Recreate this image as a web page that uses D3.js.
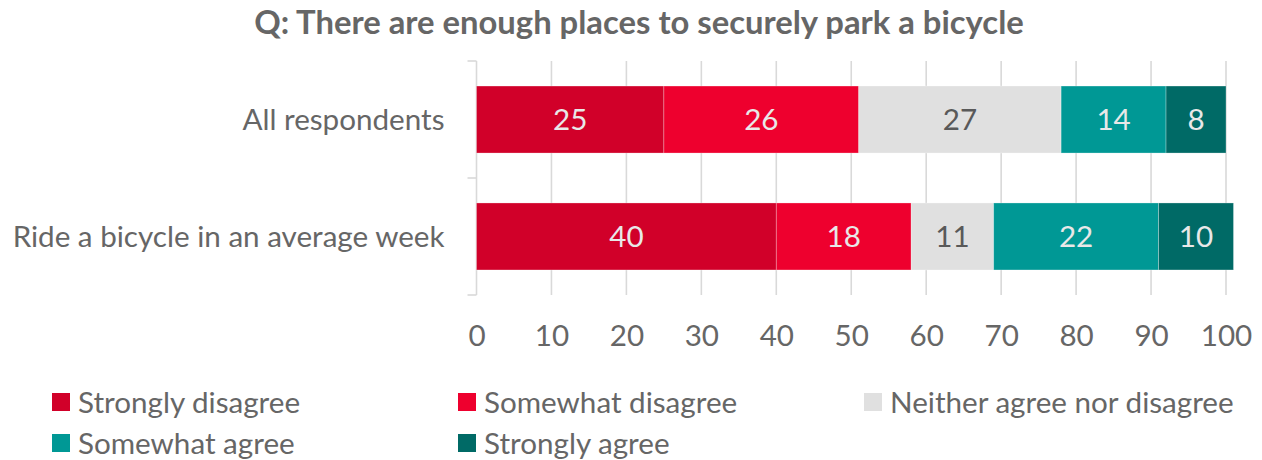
<!DOCTYPE html>
<html>
<head>
<meta charset="utf-8">
<script src="https://cdn.jsdelivr.net/npm/d3@7"></script>
<style>
  body { margin: 0; background: #ffffff; }
  svg { display: block; }
</style>
</head>
<body>
<svg id="chart" width="1262" height="460"></svg>
<script>
// Survey responses (percent of each group)
const titleText = "Q: There are enough places to securely park a bicycle";
const categories = ["All respondents", "Ride a bicycle in an average week"];
const seriesNames = ["Strongly disagree", "Somewhat disagree", "Neither agree nor disagree", "Somewhat agree", "Strongly agree"];
const stronglyDisagree = [25, 40];
const somewhatDisagree = [26, 18];
const neitherAgree = [27, 11];
const somewhatAgree = [14, 22];
const stronglyAgree = [8, 10];
const xTicks = [0, 10, 20, 30, 40, 50, 60, 70, 80, 90, 100];

const seriesColors = ["#d10029", "#ee002e", "#e0e0e0", "#009895", "#006a66"];
const valueColors = ["#e8e8e8", "#e8e8e8", "#595959", "#e8e8e8", "#e8e8e8"];
const textColor = "#666666";
const gridColor = "#d9d9d9";
const FONT = "Lato, 'Open Sans', 'DejaVu Sans', sans-serif";

const svg = d3.select("#chart");

// size a font so a reference string spans a given width
function fitSize(text, weight, width) {
  const t = svg.append("text")
    .attr("font-family", FONT).attr("font-weight", weight)
    .attr("font-size", 100).text(text);
  const w = t.node().getComputedTextLength();
  t.remove();
  return 100 * width / w;
}
const baseSize = fitSize(categories[1], 400, 432);
const titleSize = fitSize(titleText, 700, 770);

const seriesValues = [stronglyDisagree, somewhatDisagree, neitherAgree, somewhatAgree, stronglyAgree];
const rows = categories.map((c, i) => {
  const r = { category: c };
  seriesNames.forEach((s, k) => { r[s] = seriesValues[k][i]; });
  return r;
});
const stacked = d3.stack().keys(seriesNames)(rows);

const plotTop = 61, plotBottom = 295;
const x = d3.scaleLinear().domain([0, 100]).range([476.5, 1226]);
const y = d3.scaleBand().domain(categories).range([plotTop, plotBottom])
  .paddingInner(0.427).paddingOuter(0.214);

// title
svg.append("text")
  .attr("x", 639).attr("y", 34)
  .attr("text-anchor", "middle")
  .attr("font-family", FONT).attr("font-weight", 700)
  .attr("font-size", titleSize).attr("fill", textColor)
  .text(titleText);

// vertical gridlines
svg.append("g").selectAll("line")
  .data(xTicks.slice(1))
  .join("line")
  .attr("x1", d => x(d)).attr("x2", d => x(d))
  .attr("y1", plotTop).attr("y2", plotBottom)
  .attr("stroke", gridColor).attr("stroke-width", 1.6);

// category axis line with outside ticks at band edges
const catAxis = svg.append("g");
catAxis.append("line")
  .attr("x1", x(0)).attr("x2", x(0))
  .attr("y1", plotTop).attr("y2", plotBottom)
  .attr("stroke", gridColor).attr("stroke-width", 1.6);
const bandEdges = [plotTop].concat(categories.map(c => y(c) + y.bandwidth() + y.step() * y.paddingInner() / 2));
bandEdges[bandEdges.length - 1] = plotBottom;
catAxis.selectAll("line.edge")
  .data(bandEdges)
  .join("line").attr("class", "edge")
  .attr("x1", x(0) - 9).attr("x2", x(0))
  .attr("y1", d => d).attr("y2", d => d)
  .attr("stroke", gridColor).attr("stroke-width", 1.6);

// stacked bars
const layers = svg.append("g").selectAll("g")
  .data(stacked)
  .join("g")
  .attr("fill", (d, i) => seriesColors[i]);

layers.selectAll("rect")
  .data(d => d.map(p => ({ p, key: d.key })))
  .join("rect")
  .attr("x", d => x(d.p[0]))
  .attr("width", d => x(d.p[1]) - x(d.p[0]))
  .attr("y", d => y(d.p.data.category))
  .attr("height", y.bandwidth())
  .attr("stroke", "#ffffff").attr("stroke-opacity", 0.35).attr("stroke-width", 0.8);

// value labels
svg.append("g").selectAll("g")
  .data(stacked)
  .join("g")
  .attr("fill", (d, i) => valueColors[i])
  .selectAll("text")
  .data(d => d)
  .join("text")
  .attr("x", d => (x(d[0]) + x(d[1])) / 2)
  .attr("y", d => y(d.data.category) + y.bandwidth() / 2)
  .attr("dy", "0.36em")
  .attr("text-anchor", "middle")
  .attr("font-family", FONT).attr("font-size", baseSize)
  .text(d => d3.format(".0f")(d[1] - d[0]));

// category labels
const yAxis = svg.append("g")
  .attr("transform", `translate(${x(0)},0)`)
  .call(d3.axisLeft(y).tickSize(0).tickPadding(32));
yAxis.select(".domain").remove();
yAxis.selectAll("text")
  .attr("font-family", FONT).attr("font-size", baseSize)
  .attr("fill", textColor).attr("dy", "0.36em");

// value axis labels
const xAxis = svg.append("g")
  .attr("transform", `translate(0,${plotBottom})`)
  .call(d3.axisBottom(x).tickValues(xTicks).tickSize(0).tickFormat(d3.format("d")));
xAxis.select(".domain").remove();
xAxis.selectAll("text")
  .attr("y", 51).attr("dy", 0)
  .attr("font-family", FONT).attr("font-size", baseSize)
  .attr("fill", textColor);

// legend
const legendX = [52, 458, 864];
const legendY = [393, 434];
const legend = svg.append("g").selectAll("g")
  .data(seriesNames)
  .join("g")
  .attr("transform", (d, i) => `translate(${legendX[i % 3]},${legendY[Math.floor(i / 3)]})`);
legend.append("rect")
  .attr("width", 18).attr("height", 18)
  .attr("fill", (d, i) => seriesColors[i]);
legend.append("text")
  .attr("x", 26).attr("y", 9).attr("dy", "0.36em")
  .attr("font-family", FONT).attr("font-size", baseSize)
  .attr("fill", textColor)
  .text(d => d);
</script>
</body>
</html>
